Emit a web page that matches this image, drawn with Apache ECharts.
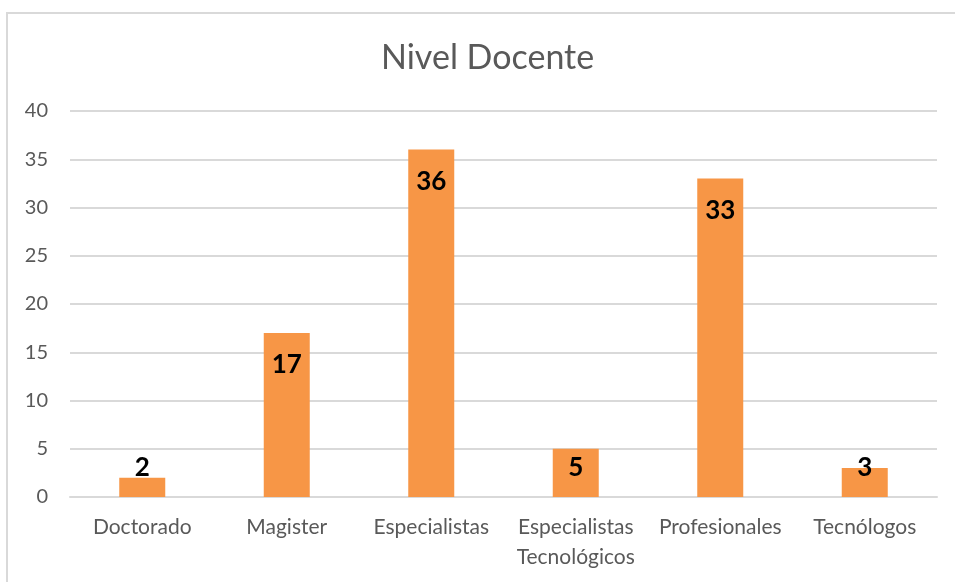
<!DOCTYPE html>
<html>
<head>
<meta charset="utf-8">
<script src="https://cdn.jsdelivr.net/npm/echarts@6/dist/echarts.min.js"></script>
<style>
  html, body { margin: 0; padding: 0; background: #fff; }
  .frame {
    position: absolute;
    left: 6px;
    top: 12px;
    width: 960px;
    height: 580px;
    border-left: 2px solid #d9d9d9;
    border-top: 2px solid #d9d9d9;
  }
  #chart { position: absolute; left: 0; top: 0; width: 955px; height: 582px; }
</style>
</head>
<body>
<div class="frame"></div>
<div id="chart"></div>
<script>
const categories = ['Doctorado', 'Magister', 'Especialistas', 'Especialistas\nTecnológicos', 'Profesionales', 'Tecnólogos']
const docentes = [2, 17, 36, 5, 33, 3]
const yTicks = [0, 5, 10, 15, 20, 25, 30, 35, 40]

const font = 'Lato, "Open Sans", sans-serif'

const chart = echarts.init(document.getElementById('chart'))

// small bars get their label lifted off the baseline, like Excel does
const barData = docentes.map(v => ({
  value: v,
  label: v <= 5
    ? { position: 'insideBottom', distance: 16 }
    : { position: 'insideTop', distance: 19 }
}))

chart.setOption({
  animation: false,
  title: {
    text: 'Nivel Docente',
    left: 376,
    top: 36,
    textStyle: { fontFamily: font, fontSize: 34, fontWeight: 'normal', color: '#595959' }
  },
  grid: { left: 70, right: 18, top: 111, bottom: 85 },
  xAxis: {
    type: 'category',
    data: categories,
    axisLine: { lineStyle: { color: '#d9d9d9', width: 2 } },
    axisTick: { show: false },
    axisLabel: { fontFamily: font, fontSize: 21, color: '#595959', margin: 15, lineHeight: 30, interval: 0 }
  },
  yAxis: {
    type: 'value',
    min: yTicks[0],
    max: yTicks[yTicks.length - 1],
    interval: 5,
    axisLine: { show: false },
    axisTick: { show: false },
    splitLine: { lineStyle: { color: '#d9d9d9', width: 2 } },
    axisLabel: { fontFamily: font, fontSize: 20, color: '#595959', margin: 22 }
  },
  series: [{
    type: 'bar',
    data: barData,
    barWidth: 46,
    itemStyle: { color: '#f79646' },
    label: {
      show: true,
      fontFamily: font,
      fontSize: 26,
      fontWeight: 'bold',
      color: '#000'
    }
  }]
})
</script>
</body>
</html>
